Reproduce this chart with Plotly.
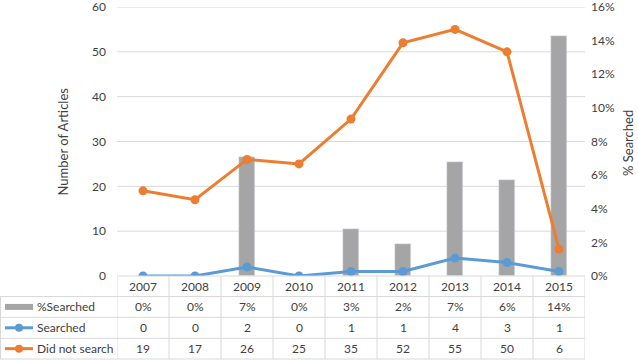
import plotly.graph_objects as go

# ---- data ----
years = ["2007", "2008", "2009", "2010", "2011", "2012", "2013", "2014", "2015"]
searched = [0, 0, 2, 0, 1, 1, 4, 3, 1]
did_not_search = [19, 17, 26, 25, 35, 52, 55, 50, 6]
pct_searched = [0.0, 0.0, 7.1, 0.0, 2.8, 1.9, 6.8, 5.7, 14.3]
series_names = ["%Searched", "Searched", "Did not search"]
left_ticks = [0, 10, 20, 30, 40, 50, 60]
right_ticks = [0, 2, 4, 6, 8, 10, 12, 14, 16]

# ---- styling ----
W, H = 638, 360
PX_L, PX_R = 117, 585
PY_T, PY_B = 7, 276
ROW_EDGES = [276, 296.5, 317.3, 338.3, 359]
GREY = "#A5A5A5"
BLUE = "#5B9BD5"
ORANGE = "#ED7D31"
GRID = "#D9D9D9"
TXT = "#404040"
FONT = "Lato, Liberation Sans, Arial, sans-serif"
FS = 12


xs = list(range(len(years)))

fig = go.Figure()
# bars on the primary (right-side, percent) axis so that lines draw on top
fig.add_trace(go.Bar(x=xs, y=pct_searched, yaxis="y", marker_color=GREY,
                     width=0.31, name=series_names[0]))
fig.add_trace(go.Scatter(x=xs, y=searched, yaxis="y2", mode="lines+markers", name=series_names[1],
                         line=dict(color=BLUE, width=3), marker=dict(size=9, color=BLUE)))
fig.add_trace(go.Scatter(x=xs, y=did_not_search, yaxis="y2", mode="lines+markers",
                         name=series_names[2],
                         line=dict(color=ORANGE, width=3), marker=dict(size=9, color=ORANGE)))

shapes = []
annotations = []

# gridlines for the article-count axis, beneath the bars
for t in left_ticks[1:]:
    shapes.append(dict(type="line", xref="paper", yref="y2", x0=0, x1=1,
                       y0=t, y1=t, line=dict(color=GRID, width=1), layer="below"))


# table geometry, in pixels, mapped to paper coords of the plot area
def tx(x):
    return (x - PX_L) / (PX_R - PX_L)


def ty(y):
    return (PY_B - y) / (PY_B - PY_T)


shapes.append(dict(type="line", xref="paper", yref="paper", x0=0, x1=1,
                   y0=ty(ROW_EDGES[0]), y1=ty(ROW_EDGES[0]), line=dict(color=GRID, width=1)))
for ye in ROW_EDGES[1:]:
    shapes.append(dict(type="line", xref="paper", yref="paper", x0=tx(0), x1=1,
                       y0=ty(ye), y1=ty(ye), line=dict(color=GRID, width=1)))
for k in range(len(years) + 1):
    shapes.append(dict(type="line", xref="x", yref="paper", x0=k - 0.5, x1=k - 0.5,
                       y0=ty(ROW_EDGES[0]), y1=ty(ROW_EDGES[-1]), line=dict(color=GRID, width=1)))
shapes.append(dict(type="line", xref="paper", yref="paper", x0=tx(0.5), x1=tx(0.5),
                   y0=ty(ROW_EDGES[1]), y1=ty(ROW_EDGES[-1]), line=dict(color=GRID, width=1)))

# table cell text
row_centers = [(ROW_EDGES[i] + ROW_EDGES[i + 1]) / 2 for i in range(4)]
row_values = [years,
              [f"{round(v):.0f}%" for v in pct_searched],
              [str(v) for v in searched],
              [str(v) for v in did_not_search]]
for r, vals in enumerate(row_values):
    for i, v in enumerate(vals):
        annotations.append(dict(x=i, y=ty(row_centers[r]), xref="x", yref="paper", text=v,
                                showarrow=False, xanchor="center", yanchor="middle",
                                font=dict(family=FONT, size=FS, color=TXT)))

# legend keys in the first column
KX0, KX1, TX = 5, 33, 35
for r, name in enumerate(series_names):
    yc = row_centers[r + 1]
    if r == 0:
        shapes.append(dict(type="rect", xref="paper", yref="paper", x0=tx(KX0), x1=tx(KX1),
                           y0=ty(yc + 3), y1=ty(yc - 3), fillcolor=GREY, line=dict(width=0)))
    else:
        col = BLUE if r == 1 else ORANGE
        shapes.append(dict(type="line", xref="paper", yref="paper", x0=tx(KX0), x1=tx(KX1),
                           y0=ty(yc), y1=ty(yc), line=dict(color=col, width=3)))
        shapes.append(dict(type="circle", xref="paper", yref="paper", x0=tx(19 - 4), x1=tx(19 + 4),
                           y0=ty(yc + 4), y1=ty(yc - 4), fillcolor=col, line=dict(width=0)))
    annotations.append(dict(x=tx(TX), y=ty(yc), xref="paper", yref="paper", text=name,
                            showarrow=False, xanchor="left", yanchor="middle",
                            font=dict(family=FONT, size=FS, color=TXT)))

# axis titles
annotations.append(dict(x=tx(62), y=0.5, xref="paper", yref="paper",
                        text="Number of Articles", textangle=-90, showarrow=False,
                        xanchor="center", yanchor="middle",
                        font=dict(family=FONT, size=13, color=TXT)))
annotations.append(dict(x=tx(628), y=ty(143), xref="paper", yref="paper",
                        text="% Searched", textangle=-90, showarrow=False,
                        xanchor="center", yanchor="middle",
                        font=dict(family=FONT, size=13, color=TXT)))

fig.update_layout(
    width=W, height=H,
    margin=dict(l=PX_L, r=W - PX_R, t=PY_T, b=H - PY_B, pad=0, autoexpand=False),
    paper_bgcolor="white", plot_bgcolor="white", showlegend=False,
    font=dict(family=FONT, size=FS, color=TXT),
    xaxis=dict(range=[-0.5, len(years) - 0.5], automargin=False,
               showticklabels=False, showgrid=False, zeroline=False, showline=False, ticks=""),
    yaxis=dict(side="right", range=[0, 16], tickvals=right_ticks, automargin=False,
               ticktext=[f"{t}%" for t in right_ticks], showgrid=False, zeroline=False,
               showline=False, ticks="", ticklabelstandoff=5, ticklabeloverflow="allow",
               tickfont=dict(family=FONT, size=FS, color=TXT)),
    yaxis2=dict(overlaying="y", side="left", range=[0, 60], tickvals=left_ticks,
                automargin=False,
                showgrid=False, zeroline=False, showline=False, ticks="",
                ticklabelstandoff=10, ticklabeloverflow="allow",
                tickfont=dict(family=FONT, size=FS, color=TXT)),
    shapes=shapes, annotations=annotations, bargap=0,
)

fig.write_html("out.html",
               config={"displayModeBar": False},
               post_script="document.body.style.margin='0';"
                           "document.body.style.overflow='hidden';")
